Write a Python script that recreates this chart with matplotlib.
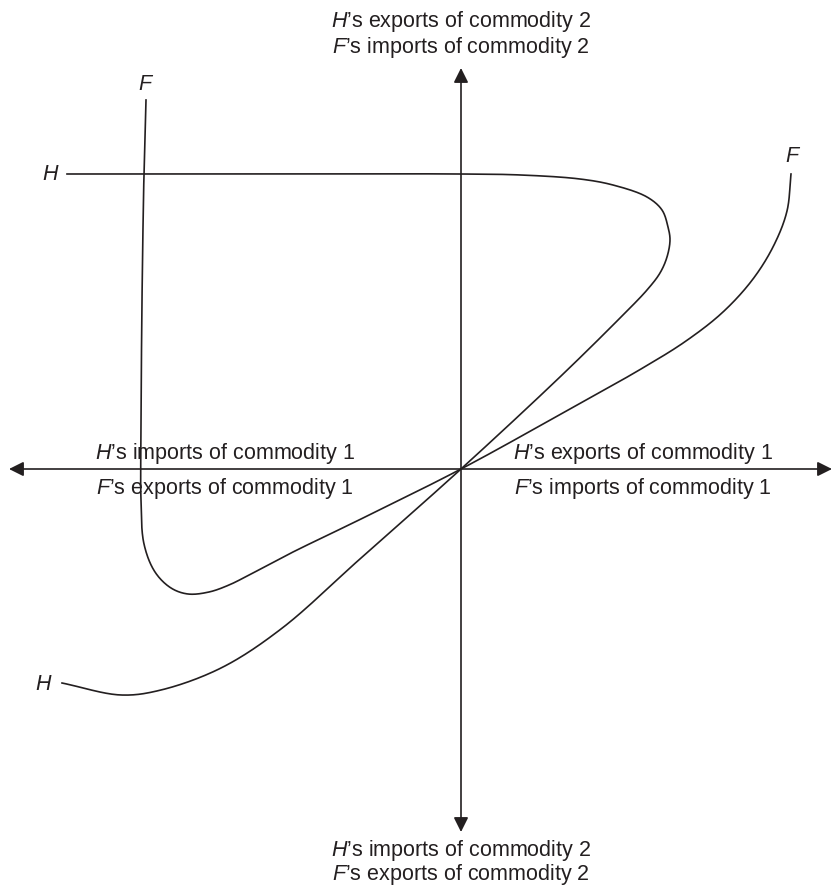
import numpy as np
import matplotlib
matplotlib.use("Agg")
import matplotlib.pyplot as plt

plt.rcParams["font.family"] = ["Liberation Sans", "DejaVu Sans"]
plt.rcParams["mathtext.fontset"] = "custom"
plt.rcParams["mathtext.rm"] = "Liberation Sans"
plt.rcParams["mathtext.it"] = "Liberation Sans:italic"

# offer curves (origin = axis crossing, y up)
h_x = [-394, -200, 0, 60, 119, 152, 186, 201, 207, 209, 206, 199, 186, 160,
       100, 0, -100, -180, -240, -300, -340, -399]
h_y = [295, 295, 295, 294, 290, 284, 272, 259, 242, 229, 212, 196, 179, 152,
       93, 0, -89, -160, -199, -221, -226, -214]

f_x = [-315, -317, -319, -320, -320, -317, -306, -290, -273, -252, -232,
       -210, -170, -100, 0, 100, 180, 225, 262, 292, 313, 326, 330]
f_y = [369, 296, 169, 39, -31, -75, -103, -119, -125, -123, -116,
       -105, -84, -50, 0, 55, 100, 128, 157, 190, 224, 258, 295]

top_labels = [r"$\mathit{H}$’s exports of commodity 2", r"$\mathit{F}$’s imports of commodity 2"]
bottom_labels = [r"$\mathit{H}$’s imports of commodity 2", r"$\mathit{F}$’s exports of commodity 2"]
left_labels = [r"$\mathit{H}$’s imports of commodity 1", r"$\mathit{F}$’s exports of commodity 1"]
right_labels = [r"$\mathit{H}$’s exports of commodity 1", r"$\mathit{F}$’s imports of commodity 1"]


def smooth(xs, ys, n=30, alpha=0.5):
    # centripetal catmull-rom through the read points
    p = np.column_stack([xs, ys]).astype(float)
    p = np.vstack([2 * p[0] - p[1], p, 2 * p[-1] - p[-2]])
    out = []
    for i in range(1, len(p) - 2):
        p0, p1, p2, p3 = p[i - 1], p[i], p[i + 1], p[i + 2]
        t0 = 0.0
        t1 = t0 + np.linalg.norm(p1 - p0) ** alpha
        t2 = t1 + np.linalg.norm(p2 - p1) ** alpha
        t3 = t2 + np.linalg.norm(p3 - p2) ** alpha
        t = np.linspace(t1, t2, n, endpoint=False)[:, None]
        a1 = (t1 - t) / (t1 - t0) * p0 + (t - t0) / (t1 - t0) * p1
        a2 = (t2 - t) / (t2 - t1) * p1 + (t - t1) / (t2 - t1) * p2
        a3 = (t3 - t) / (t3 - t2) * p2 + (t - t2) / (t3 - t2) * p3
        b1 = (t2 - t) / (t2 - t0) * a1 + (t - t0) / (t2 - t0) * a2
        b2 = (t3 - t) / (t3 - t1) * a2 + (t - t1) / (t3 - t1) * a3
        out.append((t2 - t) / (t2 - t1) * b1 + (t - t1) / (t2 - t1) * b2)
    out.append(p[-2][None, :])
    out = np.vstack(out)
    return out[:, 0], out[:, 1]


fig = plt.figure(figsize=(8.4, 8.88), dpi=100)
ax = fig.add_axes([0, 0, 1, 1])
ax.set_xlim(-461, 379)
ax.set_ylim(-419, 469)
ax.axis("off")

ink = "#231f20"
arrow = dict(arrowstyle="<|-|>", color=ink, lw=1.2, mutation_scale=22, shrinkA=0, shrinkB=0)
ax.annotate("", xy=(-452, 0), xytext=(371, 0), arrowprops=arrow)
ax.annotate("", xy=(0, 401), xytext=(0, -363), arrowprops=arrow)

hx, hy = smooth(h_x, h_y)
fx, fy = smooth(f_x, f_y)
ax.plot(hx, hy, color=ink, lw=1.2)
ax.plot(fx, fy, color=ink, lw=1.2)

fs = 15.5
lab = dict(fontsize=fs, style="italic", color=ink, ha="center", va="center")
ax.text(-411, 295, "H", **lab)
ax.text(-418, -215, "H", **lab)
ax.text(-316, 384, "F", **lab)
ax.text(331, 313, "F", **lab)

txt = dict(fontsize=fs, color=ink, ha="center", va="center")
ax.text(0, 447, top_labels[0], **txt)
ax.text(0, 421, top_labels[1], **txt)
ax.text(0, -381, bottom_labels[0], **txt)
ax.text(0, -405, bottom_labels[1], **txt)
ax.text(-236, 16, left_labels[0], **txt)
ax.text(-236, -19, left_labels[1], **txt)
ax.text(182, 16, right_labels[0], **txt)
ax.text(182, -19, right_labels[1], **txt)

fig.savefig("out.png", dpi=100, facecolor="white")
